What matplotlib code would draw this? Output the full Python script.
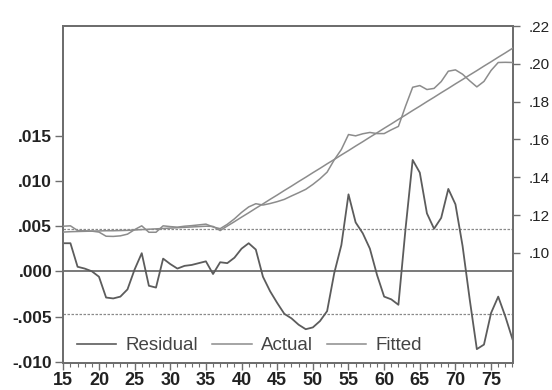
import matplotlib
matplotlib.use("Agg")
import matplotlib.pyplot as plt
from matplotlib.ticker import FixedLocator, MultipleLocator, FuncFormatter
from matplotlib.lines import Line2D

# Observation years (19xx, shown as two digits)
years = list(range(15, 79))

residual = [
    0.0031, 0.0031, 0.0005, 0.0003, 0.0000, -0.0006, -0.0029, -0.0030,
    -0.0028, -0.0020, 0.0002, 0.0020, -0.0016, -0.0018, 0.0014, 0.0008,
    0.0003, 0.0006, 0.0007, 0.0009, 0.0011, -0.0003, 0.0010, 0.0009,
    0.0015, 0.0025, 0.0031, 0.0024, -0.0006, -0.0022, -0.0035, -0.0047,
    -0.0052, -0.0059, -0.0064, -0.0062, -0.0055, -0.0044, -0.0002, 0.0029,
    0.0085, 0.0054, 0.0042, 0.0025, -0.0004, -0.0028, -0.0031, -0.0037,
    0.0047, 0.0123, 0.0109, 0.0064, 0.0047, 0.0059, 0.0091, 0.0074,
    0.0028, -0.0031, -0.0086, -0.0081, -0.0046, -0.0028, -0.0050, -0.0075,
]

actual = [
    0.1141, 0.1143, 0.1118, 0.1117, 0.1115, 0.1110, 0.1088, 0.1087,
    0.1090, 0.1099, 0.1123, 0.1143, 0.1109, 0.1109, 0.1143, 0.1139,
    0.1136, 0.1141, 0.1144, 0.1148, 0.1152, 0.1137, 0.1128, 0.1151,
    0.1180, 0.1214, 0.1243, 0.1260, 0.1253, 0.1261, 0.1271, 0.1283,
    0.1301, 0.1318, 0.1336, 0.1362, 0.1392, 0.1427, 0.1492, 0.1547,
    0.1626, 0.1619, 0.1630, 0.1637, 0.1631, 0.1631, 0.1651, 0.1669,
    0.1776, 0.1876, 0.1885, 0.1864, 0.1870, 0.1906, 0.1961, 0.1968,
    0.1945, 0.1910, 0.1878, 0.1907, 0.1965, 0.2007, 0.2008, 0.2007,
]

fitted = [
    0.1110, 0.1112, 0.1113, 0.1114, 0.1115, 0.1116, 0.1117, 0.1117,
    0.1118, 0.1119, 0.1121, 0.1123, 0.1125, 0.1127, 0.1129, 0.1131,
    0.1133, 0.1135, 0.1137, 0.1139, 0.1141, 0.1140, 0.1118, 0.1142,
    0.1165, 0.1189, 0.1212, 0.1236, 0.1259, 0.1283, 0.1306, 0.1330,
    0.1353, 0.1377, 0.1400, 0.1424, 0.1447, 0.1471, 0.1494, 0.1518,
    0.1541, 0.1565, 0.1588, 0.1612, 0.1635, 0.1659, 0.1682, 0.1706,
    0.1729, 0.1753, 0.1776, 0.1800, 0.1823, 0.1847, 0.1870, 0.1894,
    0.1917, 0.1941, 0.1964, 0.1988, 0.2011, 0.2035, 0.2058, 0.2082,
]

resid_sd = 0.0047
left_ticks = [-0.010, -0.005, 0.000, 0.005, 0.010, 0.015]
right_ticks = [0.10, 0.12, 0.14, 0.16, 0.18, 0.20, 0.22]
x_major = [15, 20, 25, 30, 35, 40, 45, 50, 55, 60, 65, 70, 75]
series_names = ["Residual", "Actual", "Fitted"]

FRAME = "#6e6e6e"
RES_C = "#5c5c5c"
FIT_C = "#8c8c8c"

plt.rcParams["font.family"] = ["Liberation Sans", "DejaVu Sans"]

fig = plt.figure(figsize=(5.52, 3.90), dpi=100)
fig.patch.set_facecolor("white")
ax = fig.add_axes([0.1147, 0.0700, 0.8150, 0.8633])
ax2 = ax.twinx()

# residual panel (left scale) with zero line and +/- one standard error bands
ax.plot(years, residual, color=RES_C, lw=1.3, zorder=3)
ax.axhline(0.0, color=FRAME, lw=1.3, zorder=2)
for lvl in (resid_sd, -resid_sd):
    ax.axhline(lvl, color="#8a8a8a", lw=0.9, ls=(0, (2, 1.2)), zorder=2)
ax.set_ylim(-0.0101, 0.0271)
ax.set_xlim(15, 78.1)
ax.yaxis.set_major_locator(FixedLocator(left_ticks))
ax.yaxis.set_major_formatter(FuncFormatter(lambda v, p: f"{v:.3f}".replace("0.", ".", 1)))

# actual / fitted (right scale)
ax2.plot(years, actual, color=FIT_C, lw=1.1, zorder=3)
ax2.plot(years, fitted, color=FIT_C, lw=1.1, zorder=3)
ax2.set_ylim(0.0419, 0.2200)
ax2.yaxis.set_major_locator(FixedLocator(right_ticks))
ax2.yaxis.set_major_formatter(FuncFormatter(lambda v, p: f"{v:.2f}".replace("0.", ".", 1)))

ax.xaxis.set_major_locator(FixedLocator(x_major))
ax.xaxis.set_minor_locator(MultipleLocator(1))

for a in (ax, ax2):
    for sp in a.spines.values():
        sp.set_color(FRAME)
        sp.set_linewidth(1.4)

ax.tick_params(axis="y", direction="out", length=6, width=1.0, color=FRAME,
               labelsize=12.5, pad=2, labelcolor="#222222")
ax.tick_params(axis="x", which="major", direction="out", length=5, width=1.0,
               color=FRAME, labelsize=13, pad=2, labelcolor="#222222")
ax.tick_params(axis="x", which="minor", direction="out", length=3, width=0.8,
               color=FRAME)
for lab in ax.get_xticklabels() + ax.get_yticklabels():
    lab.set_fontweight("bold")
ax2.tick_params(axis="y", direction="out", length=5, width=1.0, color=FRAME,
                labelsize=11, pad=6, labelcolor="#222222")

handles = [
    Line2D([], [], color=RES_C, lw=1.2),
    Line2D([], [], color=FIT_C, lw=1.1),
    Line2D([], [], color=FIT_C, lw=1.1),
]
leg = ax.legend(handles, series_names, ncol=3, loc="center left",
                bbox_to_anchor=(0.030, 0.050), frameon=False, fontsize=13.5,
                handlelength=2.1, handletextpad=0.5, columnspacing=0.75,
                borderpad=0, borderaxespad=0)
for t in leg.get_texts():
    t.set_color("#444444")

fig.savefig("out.png", dpi=100, facecolor="white")
